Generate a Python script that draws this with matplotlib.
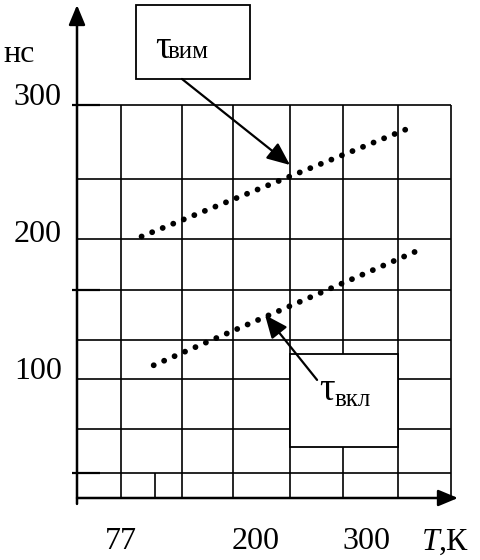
import matplotlib
matplotlib.use('Agg')
import matplotlib.pyplot as plt
from matplotlib.patches import Rectangle

plt.rcParams['font.family'] = ['Liberation Serif', 'DejaVu Serif']

# switch-off / switch-on delay vs temperature (ends of the dotted lines)
T_vim = [96, 345]
tau_vim = [204, 285]
T_vkl = [107, 345]
tau_vkl = [110, 193]

x_ticks = [77, 200, 300]
x_labels = ['77', '200', '300']
y_ticks = [100, 200, 300]
y_labels = ['100', '200', '300']

# hand-drawn grid
grid_T = [77, 133, 179, 231, 279, 329, 377]
short_T = [108]
grid_tau = [300, 246, 202, 165, 128.5, 100, 63.5, 31.4]
stub_tau = [300, 165, 31.4]

T_min, T_max = 37.3, 383.6
tau_min, tau_max = 13.1, 373

fig = plt.figure(figsize=(4.8, 5.6), dpi=100)
ax = fig.add_axes([77 / 480, 62 / 560, 381 / 480, 493 / 560])
ax.set_xlim(T_min, T_max)
ax.set_ylim(tau_min, tau_max)
for s in ax.spines.values():
    s.set_visible(False)

# grid
ax.hlines(grid_tau, T_min, 377.3, color='k', lw=1.2, zorder=1)
ax.hlines(stub_tau, 33, 58, color='k', lw=1.6, zorder=1, clip_on=False)
ax.vlines(grid_T, tau_min, 300, color='k', lw=1.2, zorder=1)
ax.vlines(short_T, tau_min, 31.4, color='k', lw=1.2, zorder=1)

# axes with arrows
head = dict(arrowstyle='-|>,head_length=0.6,head_width=0.25', mutation_scale=20,
            lw=1.8, color='k', shrinkA=0, shrinkB=0)
ax.annotate('', xy=(0, 1), xytext=(0, -0.012), xycoords='axes fraction',
            arrowprops=head, annotation_clip=False)
ax.annotate('', xy=(1, 0), xytext=(0, 0), xycoords='axes fraction',
            arrowprops=head, annotation_clip=False)

# dotted curves
dots = dict(color='k', lw=4.2, linestyle=(0, (0.01, 1.94)), dash_capstyle='round', zorder=4)
ax.plot(T_vim, tau_vim, **dots)
ax.plot(T_vkl, tau_vkl, **dots)

# label boxes
ax.add_patch(Rectangle((91, 319), 103.5, 54, fc='white', ec='k', lw=1.3,
                       zorder=3, clip_on=False))
ax.add_patch(Rectangle((231, 50.4), 98, 67.8, fc='white', ec='k', lw=1.3, zorder=3))

ax.text(108, 334.5, '\u03c4', fontsize=28, ha='left', va='baseline', zorder=5)
ax.text(120, 334.5, 'вим', fontsize=18, ha='left', va='baseline', zorder=5)
ax.text(257, 84.7, '\u03c4', fontsize=28, ha='left', va='baseline', zorder=5)
ax.text(271.5, 80.3, 'вкл', fontsize=18, ha='left', va='baseline', zorder=5)

pointer = dict(arrowstyle='-|>,head_length=0.7,head_width=0.3', mutation_scale=20,
               lw=1.6, color='k', shrinkA=0, shrinkB=0)
ax.annotate('', xy=(230.9, 256.2), xytext=(132.7, 319), arrowprops=pointer, zorder=5)
ax.annotate('', xy=(208.2, 146.7), xytext=(255.5, 99.3), arrowprops=pointer, zorder=5)

# ticks
ax.set_xticks(x_ticks, x_labels, fontsize=23)
ax.set_yticks(y_ticks, y_labels, fontsize=23)
ax.tick_params(axis='x', length=0, pad=21)
ax.tick_params(axis='y', length=0, pad=11)
for lbl in ax.get_yticklabels():
    lbl.set_verticalalignment('baseline')

fig.text(3 / 480, 1 - 62 / 560, 'нс', fontsize=23, va='baseline')
fig.text(422 / 480, 1 - 550 / 560, 'T', fontsize=23, style='italic', va='baseline')
fig.text(439 / 480, 1 - 550 / 560, ',К', fontsize=23, va='baseline')

fig.savefig('out.png', dpi=100)
